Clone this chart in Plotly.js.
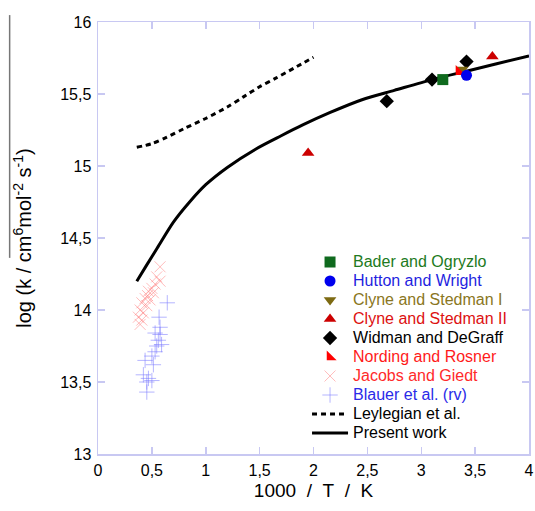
<!DOCTYPE html>
<html><head><meta charset="utf-8">
<script src="https://cdn.plot.ly/plotly-3.0.1.min.js"></script>
<style>html,body{margin:0;padding:0;background:#fff;}#chart{width:535px;height:511px;}</style>
</head><body><div id="chart"></div>
<script>
// ---- data ----
var presentX = [0.36, 0.45, 0.55, 0.70, 0.85, 1.00, 1.20, 1.47, 1.70, 1.90, 2.15, 2.45, 2.75, 3.10, 3.40, 3.70, 4.00];
var presentY = [14.20, 14.31, 14.43, 14.61, 14.75, 14.87, 14.99, 15.12, 15.21, 15.285, 15.37, 15.46, 15.525, 15.60, 15.655, 15.71, 15.765];
var leyX = [0.36, 0.50, 0.64, 0.80, 1.00, 1.20, 1.35, 1.50, 1.65, 1.82, 2.00];
var leyY = [15.13, 15.155, 15.20, 15.26, 15.33, 15.41, 15.48, 15.55, 15.61, 15.68, 15.755];
var baderX = [3.20], baderY = [15.60];
var huttonX = [3.42], huttonY = [15.63];
var clyne1X = [3.38], clyne1Y = [15.67];
var clyne2X = [1.95, 3.66], clyne2Y = [15.09, 15.76];
var widmanX = [2.68, 3.10, 3.42], widmanY = [15.45, 15.60, 15.725];
var nordX = [3.35], nordY = [15.655];
var jacobsX = [0.576, 0.545, 0.576, 0.50, 0.468, 0.514, 0.437, 0.483, 0.407, 0.453, 0.391, 0.421, 0.375, 0.407, 0.391, 0.53, 0.46];
var jacobsY = [14.30, 14.23, 14.20, 14.15, 14.13, 14.12, 14.08, 14.07, 14.05, 14.03, 14.00, 13.98, 13.95, 13.93, 13.90, 14.18, 14.10];
var blauerX = [0.643, 0.567, 0.576, 0.53, 0.576, 0.56, 0.59, 0.545, 0.53, 0.50, 0.437, 0.514, 0.421, 0.468, 0.50, 0.453, 0.453];
var blauerY = [14.05, 13.95, 13.88, 13.84, 13.83, 13.79, 13.76, 13.75, 13.71, 13.68, 13.65, 13.62, 13.55, 13.525, 13.51, 13.50, 13.43];
var names = ["Bader and Ogryzlo", "Hutton and Wright", "Clyne and Stedman I", "Clyne and Stedman II",
             "Widman and DeGraff", "Nording and Rosner", "Jacobs and Giedt", "Blauer et al. (rv)",
             "Leylegian et al.", "Present work"];
var xTitle = "1000\u00a0\u00a0/\u00a0\u00a0T\u00a0\u00a0/\u00a0\u00a0K";
var yTitle = "log (k / cm<sup>6</sup>mol<sup>-2</sup> s<sup>-1</sup>)\u00a0\u00a0\u00a0";

function lbl(i, color) {
  return '<span style="font-size:16px;fill:' + color + '">' + names[i] + '</span>';
}

var traces = [
  {x: presentX, y: presentY, mode: 'lines', name: lbl(9, '#000'), legendrank: 10,
   line: {color: '#000', width: 3, shape: 'spline', smoothing: 0.8}},
  {x: leyX, y: leyY, mode: 'lines', name: lbl(8, '#000'), legendrank: 9,
   line: {color: '#000', width: 3, dash: '5px,4px', shape: 'spline', smoothing: 0.8}},
  {x: jacobsX, y: jacobsY, mode: 'markers', name: lbl(6, '#ff2a2a'), legendrank: 7,
   marker: {symbol: 'x-thin-open', size: 11, color: 'rgba(255,120,120,0.5)', line: {width: 1, color: 'rgba(255,120,120,0.5)'}}},
  {x: blauerX, y: blauerY, mode: 'markers', name: lbl(7, '#2a2ae8'), legendrank: 8,
   marker: {symbol: 'cross-thin-open', size: 11, color: 'rgba(120,120,255,0.55)', line: {width: 1, color: 'rgba(120,120,255,0.55)'}}},
  {x: clyne2X, y: clyne2Y, mode: 'markers', name: lbl(3, '#dd1111'), legendrank: 4,
   marker: {symbol: 'triangle-up', size: 11, color: '#cc0000'}},
  {x: widmanX, y: widmanY, mode: 'markers', name: lbl(4, '#000'), legendrank: 5,
   marker: {symbol: 'diamond', size: 11, color: '#000'}},
  {x: baderX, y: baderY, mode: 'markers', name: lbl(0, '#217a21'), legendrank: 1,
   marker: {symbol: 'square', size: 11, color: '#0f6a1e'}},
  {x: clyne1X, y: clyne1Y, mode: 'markers', name: lbl(2, '#8a7622'), legendrank: 3,
   marker: {symbol: 'triangle-down', size: 11, color: '#7d6a12'}},
  {x: nordX, y: nordY, mode: 'markers', name: lbl(5, '#ff1a1a'), legendrank: 6,
   marker: {symbol: 'triangle-sw', size: 11, color: '#ff0000'}},
  {x: huttonX, y: huttonY, mode: 'markers', name: lbl(1, '#1f1fe0'), legendrank: 2,
   marker: {symbol: 'circle', size: 11, color: '#0000ee'}}
];

var axisCommon = {
  showgrid: false, zeroline: false, showline: true, mirror: 'ticks',
  linecolor: '#c8c8f2', linewidth: 1.5, ticks: 'inside', ticklen: 7, tickwidth: 1.5,
  tickcolor: '#c8c8f2', tickfont: {family: 'Liberation Sans, Arial, sans-serif', size: 16, color: '#000'}
};

var layout = {
  width: 535, height: 511,
  margin: {l: 98, r: 6, t: 22, b: 57},
  paper_bgcolor: '#fff', plot_bgcolor: '#fff',
  separators: ', ',
  font: {family: 'Liberation Sans, Arial, sans-serif', color: '#000'},
  showlegend: true,
  legend: {x: 0.485, y: 0.478, xanchor: 'left', yanchor: 'top', bgcolor: 'rgba(0,0,0,0)',
           borderwidth: 0, font: {size: 12}, tracegroupgap: 0, itemwidth: 36},
  xaxis: Object.assign({}, axisCommon, {range: [0, 4], dtick: 0.5, tick0: 0, ticklabelstandoff: 1,
          title: {text: xTitle, font: {size: 19}, standoff: 6}}),
  yaxis: Object.assign({}, axisCommon, {range: [13, 16], dtick: 0.5, tick0: 13, ticklabelstandoff: 2,
          title: {text: yTitle, font: {size: 20}, standoff: 23}}),
  shapes: [{type: 'line', xref: 'paper', yref: 'paper', x0: -0.205, x1: -0.205, y0: 1.016, y1: 0.454,
            line: {color: '#777', width: 1.5}}]
};

Plotly.newPlot('chart', traces, layout, {displayModeBar: false, staticPlot: true});
</script>
</body></html>
